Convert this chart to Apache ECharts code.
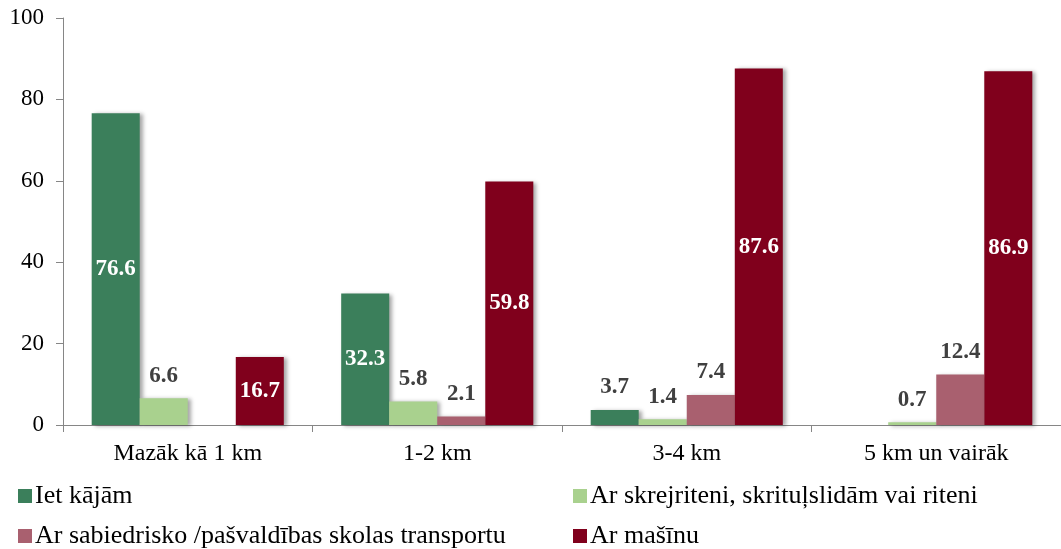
<!DOCTYPE html>
<html><head><meta charset="utf-8">
<script src="https://cdn.jsdelivr.net/npm/echarts@6/dist/echarts.min.js"></script>
<style>html,body{margin:0;padding:0;background:#fff}#c{width:1061px;height:549px}</style>
</head><body><div id="c"></div>
<script>
const categories = ['Mazāk kā 1 km', '1-2 km', '3-4 km', '5 km un vairāk'];
const seriesNames = ['Iet kājām', 'Ar skrejriteni, skrituļslidām vai riteni', 'Ar sabiedrisko /pašvaldības skolas transportu', 'Ar mašīnu'];
const ietKajam = [76.6, 32.3, 3.7, null];
const arSkrejriteni = [6.6, 5.8, 1.4, 0.7];
const arSabiedrisko = [null, 2.1, 7.4, 12.4];
const arMasinu = [16.7, 59.8, 87.6, 86.9];
const yTicks = [0, 20, 40, 60, 80, 100];

const colors = ['#3B7F5B', '#A9D18E', '#A9606F', '#80001C'];
const FONT = '"Liberation Serif", "Times New Roman", serif';

function makeData(vals) {
  return vals.map(v => {
    if (v === null) return '-';
    if (v > 15) return { value: v, label: { position: 'inside', color: '#ffffff' } };
    return { value: v, label: { position: 'top', distance: 11, color: '#404040' } };
  });
}
const allVals = [ietKajam, arSkrejriteni, arSabiedrisko, arMasinu];
const series = allVals.map((vals, i) => ({
  name: seriesNames[i],
  type: 'bar',
  data: makeData(vals),
  barGap: '0%',
  barCategoryGap: '23%',
  itemStyle: { color: colors[i], shadowColor: 'rgba(0,0,0,0.35)', shadowBlur: 4, shadowOffsetX: 3, shadowOffsetY: 1 },
  label: { show: true, fontFamily: FONT, fontWeight: 'bold', fontSize: 23, formatter: p => p.value.toFixed(1) }
}));

const legendPos = [[18, 481], [573, 481], [18, 521], [573, 521]];
const legends = seriesNames.map((n, i) => ({
  data: [n], left: legendPos[i][0], top: legendPos[i][1], padding: 0,
  icon: 'rect', itemWidth: 14, itemHeight: 14, itemGap: 0,
  textStyle: { fontFamily: FONT, fontSize: 26, lineHeight: 30, color: '#000', padding: [0, 0, 0, -2] }
}));

const chart = echarts.init(document.getElementById('c'), null, { renderer: 'canvas' });
chart.setOption({
  animation: false,
  backgroundColor: '#ffffff',
  grid: { left: 63, right: -2, top: 18, bottom: 124, containLabel: false },
  legend: legends,
  xAxis: {
    type: 'category', data: categories,
    axisLine: { lineStyle: { color: '#868686', width: 1 } },
    axisTick: { show: true, length: 7, lineStyle: { color: '#868686' } },
    axisLabel: { fontFamily: FONT, fontSize: 24, color: '#000', margin: 17 }
  },
  yAxis: {
    type: 'value', min: yTicks[0], max: yTicks[yTicks.length - 1], interval: 20,
    axisLine: { show: true, lineStyle: { color: '#868686', width: 1 } },
    axisTick: { show: true, length: 7, lineStyle: { color: '#868686' } },
    splitLine: { show: false },
    axisLabel: { fontFamily: FONT, fontSize: 23, color: '#000', margin: 19 }
  },
  series: series
});
</script></body></html>
